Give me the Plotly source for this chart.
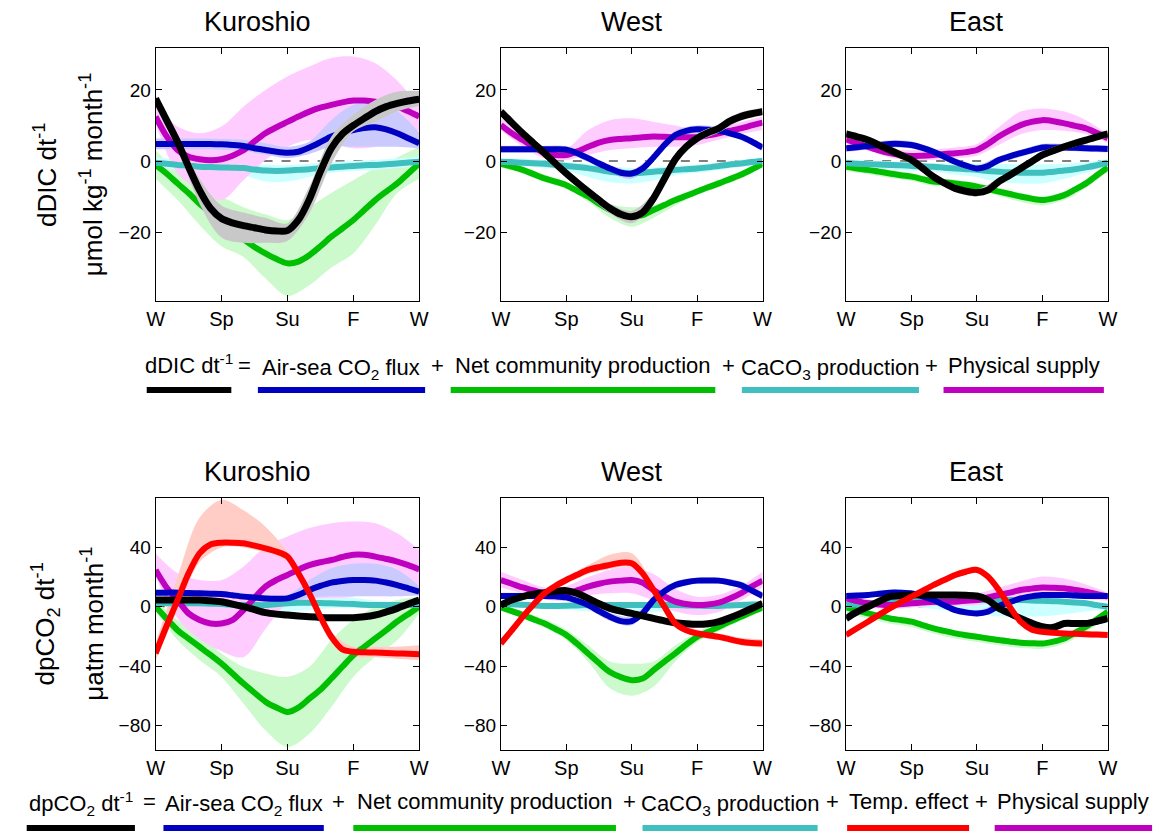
import plotly.graph_objects as go

W, H = 1167, 831
def px(x): return x / W
def py(y): return 1 - y / H

# ---------------- shared axes data ----------------
MONTHS = list(range(13))                      # band resolution
HALF = [i * 0.5 for i in range(25)]           # line resolution
TICK_POS = [0, 3, 6, 9, 12]
TICK_TEXT = ["W", "Sp", "Su", "F", "W"]
REGIONS = ["Kuroshio", "West", "East"]
YTICKS_DIC = [-20, 0, 20]
YTICKS_PCO2 = [-80, -40, 0, 40]
YRANGE_DIC = [-39.4, 31.8]
YRANGE_PCO2 = [-96.6, 73.3]

# ---------------- dDIC/dt : Kuroshio ----------------
DK_TOTAL = [17.6,11.5,5.4,-1.6,-8.2,-13.3,-16.2,-17.4,-18.2,-18.8,-19.4,-19.7,-19.6,-16.6,-10.8,-3,3.6,7.6,10,12,13.9,15.3,16.2,16.9,17.4]
DK_TOTAL_HI = [18.5,7,-5,-12.5,-14.5,-16,-17.5,-7.2,6.9,13,17.2,19.5,19.7]
DK_TOTAL_LO = [16.5,3.8,-12,-21.5,-23,-23,-22.5,-14.7,-0.7,8.3,11,14,15.5]
DK_AIRSEA = [4.8,4.8,4.8,4.8,4.8,4.8,4.7,4.5,4.2,3.6,3.1,2.6,2.3,2.6,3.8,5.3,6.9,7.9,8.7,9.3,9.5,8.9,7.8,6.4,5]
DK_AIRSEA_HI = [6.3,6.3,6.3,6.2,6,5,4,5.5,11.5,15.8,16.2,14,8]
DK_AIRSEA_LO = [3.3,3.3,3.3,3.2,2.8,1.8,0.8,2,4,4,4,4,3.5]
DK_NCP = [-1.1,-3.5,-6.3,-9,-12,-14.5,-17,-19.5,-22,-24.2,-26,-27.6,-28.8,-28.3,-26.5,-24,-21.3,-19,-16.6,-13.8,-11,-8.6,-6.3,-3.5,-0.7]
DK_NCP_HI = [3,-3,-7,-10,-13,-15,-16.6,-13,-9,-5.4,-2,1,4]
DK_NCP_LO = [-5,-11,-18,-24,-27,-33,-38,-35,-30,-26,-18,-9,-5]
DK_CACO3 = [-0.5,-0.8,-1.1,-1.3,-1.6,-1.7,-1.8,-1.9,-2,-2.4,-2.7,-2.8,-2.7,-2.5,-2.3,-2,-1.8,-1.6,-1.4,-1.2,-1.1,-0.9,-0.7,-0.4,-0.2]
DK_CACO3_HI = [1,0.5,0,-0.2,-0.5,-1,-1.2,-0.8,-0.3,0,0.3,0.7,1.2]
DK_CACO3_LO = [-2,-2.6,-3.2,-3.5,-4,-5.8,-5.8,-4.5,-3.3,-2.8,-2.5,-2,-1.5]
DK_PHYS = [12.5,7,3.1,1.2,0.5,0.2,0.5,1.5,3,5.5,7.8,9.5,11,12.5,13.9,15,15.8,16.5,17,17,16.7,16.1,15.3,14,12.5]
DK_PHYS_HI = [15.8,9.7,7.8,9.7,15.3,20,23.8,26.6,29,29.4,27.5,22.6,15.3]
DK_PHYS_LO = [10.6,-3.5,-8,-11,-5.4,0.3,4,5.9,5,3.6,4,5.9,8.7]

# ---------------- dDIC/dt : West ----------------
DW_TOTAL = [13.9,10.8,7.8,5,2.2,-0.7,-3.5,-6.1,-8.6,-11,-13.3,-15,-15.7,-14.5,-10.5,-5,0.5,4,6.4,8,9.2,11.2,12.5,13.3,13.9]
DW_TOTAL_HI = [15,9,3.4,-2.3,-7.4,-12,-14,-9,1.7,7.6,10.4,13.7,15]
DW_TOTAL_LO = [12.8,6.6,1,-4.7,-9.8,-14.8,-17.5,-12,-0.7,5.2,8,11.3,12.8]
DW_AIRSEA = [3.3,3.3,3.3,3.3,3.3,3.3,3.2,2.2,0.8,-0.7,-2.1,-3.3,-3.5,-2.1,1,4.5,7.3,8.5,8.9,8.8,8.5,7.8,6.9,5.5,3.8]
DW_AIRSEA_HI = [4.3,4.3,4.3,4.2,1.8,-1.1,-2.5,2,8.5,10,9.5,7.9,4.8]
DW_AIRSEA_LO = [2.3,2.3,2.3,2.2,-0.3,-3.3,-5,0,6,7.8,7.5,5.9,2.8]
DW_NCP = [-0.8,-1.6,-2.5,-3.7,-4.9,-5.8,-6.8,-8.4,-10,-12,-13.8,-14.7,-15.5,-15.2,-13.8,-12.4,-11,-9.8,-8.6,-7.4,-6.3,-5.1,-3.9,-2.4,-0.8]
DW_NCP_HI = [0.2,-1.5,-3.9,-5.8,-8.7,-12,-13,-12.5,-10,-7.6,-5.3,-2.9,0.2]
DW_NCP_LO = [-1.8,-3.5,-5.9,-7.8,-11.5,-16,-18.5,-16,-12.5,-9.6,-7.3,-4.9,-1.8]
DW_CACO3 = [-0.2,-0.3,-0.5,-0.6,-0.8,-1.1,-1.4,-1.7,-2,-2.5,-3,-3.3,-3.5,-3.3,-3,-2.8,-2.5,-2.3,-2.1,-1.8,-1.4,-1,-0.7,-0.3,0]
DW_CACO3_HI = [0.8,0.6,0.2,-0.3,-0.8,-1.5,-2,-1.8,-1.4,-1,-0.4,0.3,1]
DW_CACO3_LO = [-1.2,-1.5,-2,-2.8,-4.5,-6,-6.3,-5.5,-4,-3.3,-2.5,-1.7,-1]
DW_PHYS = [10.1,7.8,5.9,4,2.2,1.7,1.7,2.7,4,5.2,5.9,6.2,6.4,6.7,6.9,6.8,6.7,6.7,6.7,7.2,7.8,8.5,9.2,10,10.8]
DW_PHYS_HI = [12,8,4,3.5,8.7,11.5,12,11,10,8.7,9.5,11,12.5]
DW_PHYS_LO = [8.7,4,0.75,0.3,1.7,3.1,3.6,4,4,4.5,6,7.5,8.7]

# ---------------- dDIC/dt : East ----------------
DE_TOTAL = [7.6,6.8,5.9,4.5,3.1,1.7,0.3,-2,-4.4,-6.2,-7.7,-8.5,-8.9,-8.2,-5.8,-4,-2.1,-0.2,1.7,2.9,4,5,5.9,6.8,7.6]
DE_TOTAL_HI = [8.6,6.9,4.1,1.3,-3.4,-6.7,-7.9,-4.8,-1.1,2.7,5,6.9,8.6]
DE_TOTAL_LO = [6.6,4.9,2.1,-0.7,-5.4,-8.7,-9.9,-6.8,-3.1,0.7,3,4.9,6.6]
DE_AIRSEA = [3.6,3.9,4.2,4.5,4.8,4.8,4.5,3.7,2.6,1.2,-0.2,-1.3,-2.1,-1.4,0.3,1.3,2.2,3,3.8,3.8,3.8,3.7,3.6,3.5,3.4]
DE_AIRSEA_HI = [4.6,5.2,5.8,5.5,3.6,0.8,-1.1,1.3,3.2,4.8,4.8,4.6,4.4]
DE_AIRSEA_LO = [2.6,3.2,3.8,3.5,1.6,-1.2,-3.1,-0.7,1.2,2.8,2.8,2.6,2.4]
DE_NCP = [-1.6,-2.1,-2.5,-3,-3.5,-4,-4.4,-5.1,-5.8,-6,-6.3,-6.7,-7.2,-7.9,-8.6,-9.3,-10,-10.6,-11,-10.5,-9.6,-8,-6.3,-4,-1.8]
DE_NCP_HI = [-0.6,-1.5,-2.5,-3.4,-4.8,-5.3,-6.2,-7.6,-9,-10,-8.6,-5.3,-0.8]
DE_NCP_LO = [-2.8,-3.7,-4.7,-5.6,-7,-7.5,-8.4,-9.8,-11.5,-12.5,-11,-7.5,-3]
DE_CACO3 = [-0.5,-0.8,-0.9,-1,-1.1,-1.2,-1.4,-1.5,-1.6,-1.9,-2.1,-2.3,-2.5,-2.8,-3,-3.2,-3.3,-3.3,-3.3,-3,-2.7,-2.3,-1.8,-1.2,-0.5]
DE_CACO3_HI = [0.5,0.1,-0.1,-0.4,-0.6,-0.6,-0.6,-0.8,-1,-1,-0.8,-0.3,0.5]
DE_CACO3_LO = [-1.5,-1.9,-2.3,-2.8,-3,-3.8,-4.5,-6,-6.3,-6.3,-5,-3.3,-1.5]
DE_PHYS = [6.1,5,4,3,2.2,1.7,1.4,1.5,1.7,2,2.2,2.5,3.1,4.8,6.9,8.6,10.1,11,11.5,11.2,10.6,9.9,9.2,7.9,6.4]
DE_PHYS_HI = [7.5,5.3,3.5,3,3.3,3.8,4.8,9.5,13.9,14.8,13.9,11.5,7.5]
DE_PHYS_LO = [5,3,1,0.3,0.3,0.8,1.5,4.5,7.5,8.7,8.5,7.5,5]

# ---------------- dpCO2/dt : Kuroshio ----------------
PK_TOTAL = [4.5,4.5,4.5,4.5,4.5,4,3.4,1.8,0,-2,-4,-5,-5.6,-6.3,-6.8,-7.2,-7.4,-7.4,-7.4,-6.8,-5.6,-3.5,-1.1,1.8,4.5]
PK_TOTAL_HI = [6,6,6,5,1.5,-2.5,-4,-5.3,-5.9,-5.9,-4.1,0.4,6]
PK_TOTAL_LO = [3,3,3,1.9,-1.5,-5.5,-7.1,-8.3,-8.9,-8.9,-7.1,-2.6,3]
PK_AIRSEA = [9.5,9.5,9.5,9.3,9,8.8,8.6,7.7,6.8,6.2,5.6,5.4,5.6,8,11.3,14,16.2,17.3,18,18,17.6,16.3,14.6,12.4,10.1]
PK_AIRSEA_HI = [11.5,11.5,11,10.6,9,8,8,18,26,29,29,25,14]
PK_AIRSEA_LO = [7.5,7.5,7,6.6,5,3.5,3.5,6,7,7,7,7,7.5]
PK_NCP = [0,-8,-15.8,-21.5,-27,-32.5,-38.3,-45,-51.8,-58,-64,-68,-71,-68,-62,-56,-48.4,-40.5,-32.7,-27,-21.4,-15.8,-10,-5,0]
PK_NCP_HI = [4.5,-9,-18,-31.5,-40.5,-45,-47.3,-40.5,-22.5,-9,0,4.5,6.8]
PK_NCP_LO = [-2.3,-22.5,-36,-47.3,-65.3,-83.3,-94.6,-85.6,-67.6,-47.3,-33.8,-22.5,-4.5]
PK_CACO3 = [2.3,2.3,2.3,2.3,2.3,2,1.8,1.4,1.1,1.1,1.1,1.6,2.3,2.7,2.7,2.5,2.3,2,1.8,1.4,1.1,1.1,1.1,1.1,1.1]
PK_CACO3_HI = [4,4,4,3.5,3,3,6,7,7,6,4,3,3]
PK_CACO3_LO = [0.5,0.5,0.5,0,-1,-3,-3,-2,-1,-1,-1,-0.5,-0.5]
PK_TEMP = [-31.5,-13,4.5,22.5,36,42,43.2,43.2,42.8,41.2,39.4,37.2,33.8,22.5,9,-6.8,-20.3,-28.8,-30.4,-30.7,-30.9,-31.2,-31.5,-31.7,-32]
PK_TEMP_HI = [-24.8,20,60,72,65,54,37,12,-17,-27,-27,-27,-26]
PK_TEMP_LO = [-36,-2,30,40,40,36.5,30.5,5,-24,-33.5,-34,-35,-36]
PK_PHYS = [24.8,13,4.5,-4.5,-9,-11.3,-11.3,-9,-2.3,6,13.5,18,21.4,25,28,30,31.5,33.5,35,35,33.8,32.2,30.4,28,25.2]
PK_PHYS_HI = [36,22.5,18,18,27,40.5,47.3,53,56.3,57.4,56.3,49.5,38.3]
PK_PHYS_LO = [20.3,-8,-22,-30,-34,-15,2,5,6,6.8,11.3,11.3,11.3]

# ---------------- dpCO2/dt : West ----------------
PW_TOTAL = [1.1,4.5,6.8,8.5,9.5,10.5,10.8,9,5.6,2,-1.1,-3,-4.5,-6.2,-7.9,-9.5,-10.8,-11.5,-11.9,-11.5,-10.1,-7.5,-4.5,-1.2,2.3]
PW_TOTAL_HI = [2.6,8.3,11,12.3,7.1,0.4,-3,-6.4,-9.3,-10.4,-8.6,-3,3.8]
PW_TOTAL_LO = [-0.4,5.3,8,9.3,4.1,-2.6,-6,-9.4,-12.3,-13.4,-11.6,-6,0.8]
PW_AIRSEA = [7.2,7.2,7.2,7.2,7.2,7,6.3,4,1.1,-3,-6.8,-9.7,-9.7,-4.5,4.5,10.5,14.6,16.5,17.6,17.6,17.6,16.3,14.6,11,7.2]
PW_AIRSEA_HI = [9.5,9.5,9.5,8.5,3.5,-4,-6.5,7,17,19.5,19.5,17,10]
PW_AIRSEA_LO = [5,5,5,4,-1.5,-9.5,-12.5,2,12,15.5,15.5,12.5,5]
PW_NCP = [-0.5,-3,-5.6,-8.5,-11.3,-15,-19,-25,-31.5,-38,-44,-47.5,-49.5,-48.4,-42.8,-37,-31.5,-25.5,-20.3,-17,-13.5,-10,-6.8,-3.5,-0.5]
PW_NCP_HI = [2,-3,-8.5,-15.5,-26,-37,-38.5,-37,-26,-17,-10.5,-4,2]
PW_NCP_LO = [-2.5,-8,-14,-22.5,-37,-55,-60,-54,-37,-24,-16.5,-9.5,-3]
PW_CACO3 = [1.6,1.6,1.3,0.9,0.5,0.5,0.7,0.9,1.1,1.1,1.1,1.1,1.1,1.1,1.1,1.1,1.1,0.9,0.7,0.5,0.5,0.9,1.2,1.5,1.6]
PW_CACO3_HI = [3.5,3.2,2.5,2.5,3,3,3,3,3,2.5,2.5,3,3.5]
PW_CACO3_LO = [0,-0.5,-1.5,-2,-3,-3.5,-3.5,-3.5,-3,-2,-1.5,-0.5,0]
PW_TEMP = [-24.8,-16,-6.8,1.5,9,14,18,21.5,24.8,26.7,28.2,29.7,29.3,22.5,11.3,0,-11.3,-15.8,-18,-19.2,-20.3,-22,-23.6,-24.5,-24.8]
PW_TEMP_HI = [-22,-4,11.5,20.5,28,35,36,15,-8,-15.5,-18,-21,-22]
PW_TEMP_LO = [-27.5,-9.5,6.5,15.5,22,25.5,26.5,8,-13.5,-20,-22.5,-26,-27.5]
PW_PHYS = [18,15.5,13,11,9,8.6,8.6,11,13.5,15.5,16.9,17.6,18,16.2,11.3,7,3.4,1.8,1.1,1.5,2.7,5.5,9,13.5,17.6]
PW_PHYS_HI = [23.6,18,13,14,20,25,27,22,12,6.8,8,14,23.6]
PW_PHYS_LO = [13,9,5,4,7.5,9,9,4,-3,-5.6,-3.5,4,13]

# ---------------- dpCO2/dt : East ----------------
PE_TOTAL = [-7.9,-3.5,0,3.5,6.8,7.5,7.9,7.9,7.9,7.9,7.9,7.7,7.2,4.5,-1.1,-4.5,-7.9,-11,-13.5,-14,-11.3,-11.3,-11.3,-9.8,-7.9]
PE_TOTAL_HI = [-6.4,1.5,8.3,9.4,9.4,9.4,8.7,0.4,-6.4,-12,-9.8,-9.8,-6.4]
PE_TOTAL_LO = [-9.4,-1.5,5.3,6.4,6.4,6.4,5.7,-2.6,-9.4,-15,-12.8,-12.8,-9.4]
PE_AIRSEA = [7.2,7.5,7.9,8.7,9.5,9.5,9,7,4.5,1,-2.3,-3.8,-4.5,-3.4,0.5,3,5.6,7,7.9,7.9,7.9,7.5,7.2,7.2,7.2]
PE_AIRSEA_HI = [9.2,9.9,11.5,11,6.5,-0.3,-2.5,2.5,7.6,9.9,9.9,9.2,9.2]
PE_AIRSEA_LO = [5.2,5.9,7.5,7,2.5,-4.3,-6.5,-1.5,3.6,5.9,5.9,5.2,5.2]
PE_NCP = [-0.5,-2.5,-4.5,-6.2,-7.9,-9,-10.1,-12.4,-14.6,-16.3,-18,-19.2,-20.3,-21.4,-22.5,-23.4,-24.3,-24.6,-24.8,-23.5,-21.4,-17.5,-13.5,-8.5,-3.4]
PE_NCP_HI = [1.5,-2.5,-5.9,-8.1,-12.6,-16,-18.3,-20.5,-22.3,-22.8,-19.4,-11.5,-1.4]
PE_NCP_LO = [-4,-8,-11.4,-13.6,-18.1,-21.5,-23.8,-26,-27.8,-28.3,-24.9,-17,-6.9]
PE_CACO3 = [1.1,1.7,2.3,2.8,3.4,3.4,3.4,3.4,3.4,3.9,4.2,4.5,4.5,4.5,4.5,4.5,4.5,4.2,4,3.7,3.4,2.8,2.3,1.1,0]
PE_CACO3_HI = [3,4,5.5,6,7,8,8,7.5,7,6.5,5.5,4,2]
PE_CACO3_LO = [-1,0,0.5,0,-1.5,-3,-4.5,-6.5,-6.8,-6.5,-5,-3,-2]
PE_TEMP = [-19,-14.5,-10.1,-5.5,-1.1,3,6.8,10.7,14.6,18,21.4,23.6,24.8,20.3,11.3,0,-10.1,-15.3,-16.9,-17.5,-18,-18.3,-18.5,-18.8,-19]
PE_TEMP_HI = [-17,-8.1,0.9,8.8,16.6,23.4,26.8,13.3,-8.1,-14.9,-16,-16.5,-17]
PE_TEMP_LO = [-21,-12.1,-3.1,4.8,12.6,19.4,22.8,9.3,-12.1,-18.9,-20,-20.5,-21]
PE_PHYS = [5.6,3.8,2.3,1.5,1.1,1.7,2.3,2.8,3.4,3.4,3.4,4,4.5,6.2,7.9,9.5,11.3,12.2,13,12.8,12.4,11.3,10.1,8.5,6.8]
PE_PHYS_HI = [8.5,5,3.5,5,6.5,7,9,13,17,20.3,19,15,9.5]
PE_PHYS_LO = [3,-0.5,-1.5,-0.5,0.5,0.5,1,3,6,7.5,7,5,4]

# ---------------- styling ----------------
LINE_COL = {"total": "#000000", "airsea": "#0000C0", "ncp": "#00BF00",
            "caco3": "#40BFBF", "temp": "#FF0000", "phys": "#BF00BF"}
BAND_COL = {"total": "#C8C8C8", "airsea": "#CACAFF", "ncp": "#CCFACC",
            "caco3": "#CCFFFF", "temp": "#FFCCC6", "phys": "#FFCCFF"}
FONT = "Liberation Sans, Arial, Helvetica, sans-serif"

panels = [
    dict(ax=1, row=0, col=0, data={
        "total": (DK_TOTAL, DK_TOTAL_HI, DK_TOTAL_LO), "airsea": (DK_AIRSEA, DK_AIRSEA_HI, DK_AIRSEA_LO),
        "ncp": (DK_NCP, DK_NCP_HI, DK_NCP_LO), "caco3": (DK_CACO3, DK_CACO3_HI, DK_CACO3_LO),
        "phys": (DK_PHYS, DK_PHYS_HI, DK_PHYS_LO)}),
    dict(ax=2, row=0, col=1, data={
        "total": (DW_TOTAL, DW_TOTAL_HI, DW_TOTAL_LO), "airsea": (DW_AIRSEA, DW_AIRSEA_HI, DW_AIRSEA_LO),
        "ncp": (DW_NCP, DW_NCP_HI, DW_NCP_LO), "caco3": (DW_CACO3, DW_CACO3_HI, DW_CACO3_LO),
        "phys": (DW_PHYS, DW_PHYS_HI, DW_PHYS_LO)}),
    dict(ax=3, row=0, col=2, data={
        "total": (DE_TOTAL, DE_TOTAL_HI, DE_TOTAL_LO), "airsea": (DE_AIRSEA, DE_AIRSEA_HI, DE_AIRSEA_LO),
        "ncp": (DE_NCP, DE_NCP_HI, DE_NCP_LO), "caco3": (DE_CACO3, DE_CACO3_HI, DE_CACO3_LO),
        "phys": (DE_PHYS, DE_PHYS_HI, DE_PHYS_LO)}),
    dict(ax=4, row=1, col=0, data={
        "total": (PK_TOTAL, PK_TOTAL_HI, PK_TOTAL_LO), "airsea": (PK_AIRSEA, PK_AIRSEA_HI, PK_AIRSEA_LO),
        "ncp": (PK_NCP, PK_NCP_HI, PK_NCP_LO), "caco3": (PK_CACO3, PK_CACO3_HI, PK_CACO3_LO),
        "temp": (PK_TEMP, PK_TEMP_HI, PK_TEMP_LO), "phys": (PK_PHYS, PK_PHYS_HI, PK_PHYS_LO)}),
    dict(ax=5, row=1, col=1, data={
        "total": (PW_TOTAL, PW_TOTAL_HI, PW_TOTAL_LO), "airsea": (PW_AIRSEA, PW_AIRSEA_HI, PW_AIRSEA_LO),
        "ncp": (PW_NCP, PW_NCP_HI, PW_NCP_LO), "caco3": (PW_CACO3, PW_CACO3_HI, PW_CACO3_LO),
        "temp": (PW_TEMP, PW_TEMP_HI, PW_TEMP_LO), "phys": (PW_PHYS, PW_PHYS_HI, PW_PHYS_LO)}),
    dict(ax=6, row=1, col=2, data={
        "total": (PE_TOTAL, PE_TOTAL_HI, PE_TOTAL_LO), "airsea": (PE_AIRSEA, PE_AIRSEA_HI, PE_AIRSEA_LO),
        "ncp": (PE_NCP, PE_NCP_HI, PE_NCP_LO), "caco3": (PE_CACO3, PE_CACO3_HI, PE_CACO3_LO),
        "temp": (PE_TEMP, PE_TEMP_HI, PE_TEMP_LO), "phys": (PE_PHYS, PE_PHYS_HI, PE_PHYS_LO)}),
]

COL_X = [(149, 417), (500, 766), (851, 1117)]
ROW_Y = [(48, 301), (498, 750)]
TITLE_X = [253, 633, 984]   # title centres (Kuroshio title sits left of its panel centre)

fig = go.Figure()
layout_axes = {}
shapes = []

for p in panels:
    i = p["ax"]
    xa = "x" if i == 1 else f"x{i}"
    ya = "y" if i == 1 else f"y{i}"
    d = p["data"]

    def band(key):
        _, hi, lo = d[key]
        fig.add_trace(go.Scatter(x=MONTHS, y=lo, xaxis=xa, yaxis=ya, mode="lines",
                                 line=dict(width=0, shape="spline", smoothing=0.9),
                                 showlegend=False, hoverinfo="skip"))
        fig.add_trace(go.Scatter(x=MONTHS, y=hi, xaxis=xa, yaxis=ya, mode="lines",
                                 line=dict(width=0, shape="spline", smoothing=0.9),
                                 fill="tonexty", fillcolor=BAND_COL[key],
                                 showlegend=False, hoverinfo="skip"))

    def line(key, w=6):
        fig.add_trace(go.Scatter(x=HALF, y=d[key][0], xaxis=xa, yaxis=ya, mode="lines",
                                 line=dict(color=LINE_COL[key], width=w, shape="spline", smoothing=0.8),
                                 showlegend=False))

    for k in ["ncp", "caco3", "phys", "temp", "airsea"]:
        if k in d:
            band(k)
    for k in ["ncp", "caco3", "phys", "airsea"]:
        line(k)
    band("total")
    line("total", 7)
    if "temp" in d:
        line("temp")

    # dashed zero reference line (beneath everything)
    shapes.append(dict(type="line", xref=xa, yref=ya, x0=MONTHS[0], x1=MONTHS[-1], y0=0, y1=0,
                       line=dict(color="black", width=1, dash="dash"), layer="below"))

    x0, x1 = COL_X[p["col"]]
    y0, y1 = ROW_Y[p["row"]]
    top = p["row"] == 0
    layout_axes["xaxis" if i == 1 else f"xaxis{i}"] = dict(
        domain=[px(x0), px(x1)], anchor=ya, range=[0, 12],
        tickvals=TICK_POS, ticktext=TICK_TEXT, ticks="inside", ticklen=6, tickwidth=1,
        tickcolor="black", mirror="ticks", showline=True, linecolor="black", linewidth=1,
        showgrid=False, zeroline=False, tickfont=dict(size=20, color="black", family=FONT),
        fixedrange=True)
    layout_axes["yaxis" if i == 1 else f"yaxis{i}"] = dict(
        domain=[py(y1), py(y0)], anchor=xa,
        range=YRANGE_DIC if top else YRANGE_PCO2,
        tickvals=YTICKS_DIC if top else YTICKS_PCO2,
        ticks="inside", ticklen=6, tickwidth=1, tickcolor="black",
        mirror="ticks", showline=True, linecolor="black", linewidth=1,
        showgrid=False, zeroline=False, tickfont=dict(size=19, color="black", family=FONT),
        fixedrange=True)

annotations = []
# panel titles
for r, (ya0, ya1) in enumerate(ROW_Y):
    for c, name in enumerate(REGIONS):
        annotations.append(dict(text=name, x=px(TITLE_X[c]), y=py(ya0 - 26), xref="paper", yref="paper",
                                showarrow=False, xanchor="center", yanchor="middle",
                                font=dict(size=27, color="black", family=FONT)))

# y-axis labels
YLAB = [("dDIC dt<sup>-1</sup>", "μmol kg<sup>-1</sup> month<sup>-1</sup>"),
        ("dpCO<sub>2</sub> dt<sup>-1</sup>", "μatm month<sup>-1</sup>")]
for r, (l1, l2) in enumerate(YLAB):
    yc = (ROW_Y[r][0] + ROW_Y[r][1]) / 2
    annotations.append(dict(text=l1, x=px(37), y=py(yc), xref="paper", yref="paper", showarrow=False,
                            textangle=-90, xanchor="center", yanchor="middle",
                            font=dict(size=26, color="black", family=FONT)))
    annotations.append(dict(text=l2, x=px(84), y=py(yc), xref="paper", yref="paper", showarrow=False,
                            textangle=-90, xanchor="center", yanchor="middle",
                            font=dict(size=26, color="black", family=FONT)))

# equation legends
LEG_TOP_TERMS = ["dDIC dt<sup>-1</sup>", "Air-sea CO<sub>2</sub> flux", "Net community production",
                 "CaCO<sub>3</sub> production", "Physical supply"]
LEG_TOP_KEYS = ["total", "airsea", "ncp", "caco3", "phys"]
LEG_TOP_BARS = [(140, 226), (253, 423), (449, 718), (745, 925), (950, 1113)]
LEG_BOT_TERMS = ["dpCO<sub>2</sub> dt<sup>-1</sup>", "Air-sea CO<sub>2</sub> flux", "Net community production",
                 "CaCO<sub>3</sub> production", "Temp. effect", "Physical supply"]
LEG_BOT_KEYS = ["total", "airsea", "ncp", "caco3", "temp", "phys"]
LEG_BOT_BARS = [(18, 128), (157, 320), (350, 617), (644, 822), (852, 976), (1002, 1162)]

def equation(terms, keys, bars, text_y, bar_y):
    for t, k, (b0, b1) in zip(terms, keys, bars):
        shift = -5 if "<sub>" in t else 0
        annotations.append(dict(text=t, x=px((b0 + b1) / 2), y=py(text_y), xref="paper", yref="paper",
                                showarrow=False, xanchor="center", yanchor="bottom", yshift=shift,
                                font=dict(size=22, color="black", family=FONT)))
        shapes.append(dict(type="rect", xref="paper", yref="paper", x0=px(b0), x1=px(b1),
                           y0=py(bar_y + 3), y1=py(bar_y - 3), fillcolor=LINE_COL[k],
                           line=dict(width=0)))
    for j in range(len(bars) - 1):
        op = "=" if j == 0 else "+"
        xm = (bars[j][1] + bars[j + 1][0]) / 2
        annotations.append(dict(text=op, x=px(xm), y=py(text_y), xref="paper", yref="paper",
                                showarrow=False, xanchor="center", yanchor="bottom",
                                font=dict(size=22, color="black", family=FONT)))

equation(LEG_TOP_TERMS, LEG_TOP_KEYS, LEG_TOP_BARS, 380, 390)
equation(LEG_BOT_TERMS, LEG_BOT_KEYS, LEG_BOT_BARS, 816, 828)

fig.update_layout(width=W, height=H, margin=dict(l=0, r=0, t=0, b=0), autosize=False,
                  paper_bgcolor="white", plot_bgcolor="white", showlegend=False,
                  annotations=annotations, shapes=shapes, font=dict(family=FONT, color="black"),
                  **layout_axes)

fig.write_html("out.html")
